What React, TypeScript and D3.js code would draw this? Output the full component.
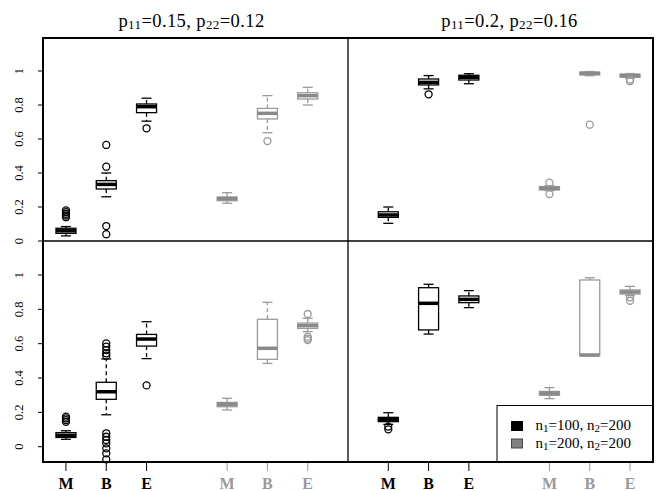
import React from "react";
import * as d3 from "d3";

// box stats: [whiskerLow, q1, median, q3, whiskerHigh]
const positions = [1, 2, 3, 5, 6, 7];
const methodLabels = ["M", "B", "E", "M", "B", "E"];
const yTicks = [0, 0.2, 0.4, 0.6, 0.8, 1];

const topLeftStats = [
  [0.03, 0.045, 0.06, 0.075, 0.085],
  [0.26, 0.306, 0.333, 0.355, 0.4],
  [0.705, 0.755, 0.79, 0.806, 0.84],
  [0.222, 0.237, 0.249, 0.259, 0.284],
  [0.637, 0.718, 0.751, 0.78, 0.855],
  [0.8, 0.835, 0.855, 0.872, 0.904],
];
const topLeftOut = [
  [0.14, 0.15, 0.16, 0.17, 0.18],
  [0.04, 0.088, 0.437, 0.565],
  [0.663],
  [],
  [0.588],
  [],
];

const topRightStats = [
  [0.104, 0.139, 0.153, 0.172, 0.2],
  [0.895, 0.918, 0.933, 0.953, 0.973],
  [0.925, 0.947, 0.963, 0.975, 0.984],
  [0.296, 0.3, 0.31, 0.32, 0.325],
  [0.972, 0.977, 0.986, 0.994, 0.997],
  [0.958, 0.963, 0.973, 0.982, 0.985],
];
const topRightOut = [
  [],
  [0.863],
  [],
  [0.276, 0.343],
  [0.684],
  [0.94, 0.95],
];

const bottomLeftStats = [
  [0.043, 0.054, 0.066, 0.082, 0.093],
  [0.186, 0.276, 0.32, 0.375, 0.511],
  [0.513, 0.586, 0.627, 0.654, 0.728],
  [0.214, 0.233, 0.247, 0.258, 0.282],
  [0.485, 0.509, 0.573, 0.742, 0.841],
  [0.67, 0.689, 0.705, 0.72, 0.748],
];
const bottomLeftOut = [
  [0.145, 0.155, 0.165, 0.175],
  [-0.074, -0.039, -0.01, 0.019, 0.039, 0.058, 0.078, 0.53, 0.544, 0.563, 0.583, 0.602],
  [0.357],
  [],
  [],
  [0.621, 0.63, 0.641, 0.773],
];

const bottomRightStats = [
  [0.13, 0.146, 0.159, 0.171, 0.198],
  [0.656, 0.68, 0.835, 0.926, 0.946],
  [0.81, 0.839, 0.858, 0.878, 0.909],
  [0.28, 0.299, 0.311, 0.322, 0.344],
  [0.53, 0.53, 0.534, 0.971, 0.984],
  [0.88, 0.889, 0.901, 0.913, 0.934],
];
const bottomRightOut = [
  [0.101, 0.117],
  [],
  [],
  [],
  [],
  [0.85, 0.87],
];

const titles = ["0.15", "0.12", "0.2", "0.16"];
const legendLabels = [["100", "200"], ["200", "200"]];

const FONT = "Liberation Serif, Times New Roman, serif";
const GREY_LINE = "#9a9a9a";
const GREY_MED = "#8a8a8a";

function Panel({ stats, outs, x, y }) {
  const hw = 10;
  const cw = 5;
  return (
    <g>
      {stats.map((s, i) => {
        const cx = x(positions[i]);
        const grey = i >= 3;
        const col = grey ? GREY_LINE : "#000";
        const med = grey ? GREY_MED : "#000";
        const [lo, q1, md, q3, hi] = s;
        return (
          <g key={i}>
            <line x1={cx} x2={cx} y1={y(q3)} y2={y(hi)} stroke={col} strokeWidth={1.3} strokeDasharray="4,3" />
            <line x1={cx} x2={cx} y1={y(q1)} y2={y(lo)} stroke={col} strokeWidth={1.3} strokeDasharray="4,3" />
            <line x1={cx - cw} x2={cx + cw} y1={y(hi)} y2={y(hi)} stroke={col} strokeWidth={1.3} />
            <line x1={cx - cw} x2={cx + cw} y1={y(lo)} y2={y(lo)} stroke={col} strokeWidth={1.3} />
            <rect x={cx - hw} y={y(q3)} width={hw * 2} height={Math.max(0.5, y(q1) - y(q3))} fill="#fff" stroke={col} strokeWidth={1.3} />
            <line x1={cx - hw} x2={cx + hw} y1={y(md)} y2={y(md)} stroke={med} strokeWidth={3.5} />
            {outs[i].map((o, j) => (
              <circle key={j} cx={cx} cy={y(o)} r={3.5} fill="none" stroke={col} strokeWidth={1.3} />
            ))}
          </g>
        );
      })}
    </g>
  );
}

function Title({ x, a, b }) {
  return (
    <text x={x} y={27} textAnchor="middle" fontFamily={FONT} fontSize={18.5} letterSpacing={0.4} fill="#000">
      p<tspan fontSize={13} dy={2}>11</tspan>
      <tspan dy={-2}>={a}, p</tspan>
      <tspan fontSize={13} dy={2}>22</tspan>
      <tspan dy={-2}>={b}</tspan>
    </text>
  );
}

export default function App() {
  const W = 659, H = 491;
  const L = 43, M = 348, R = 653, T = 38, MID = 241, B = 462;

  const xLeft = d3.scaleLinear().domain([0.43, 8.0]).range([L, M]);
  const xRight = d3.scaleLinear().domain([0, 7.57]).range([M, R]);
  const yTop = d3.scaleLinear().domain([0, 1]).range([MID, 71]);
  const yBottom = d3.scaleLinear().domain([0, 1]).range([446.7, 275]);

  return (
    <svg width={W} height={H} style={{ position: "absolute", left: 0, top: 0 }}>
      <rect width={W} height={H} fill="#fff" />
      <Title x={191.5} a={titles[0]} b={titles[1]} />
      <Title x={509.5} a={titles[2]} b={titles[3]} />

      {[yTop, yBottom].map((ys, k) => (
        <g key={k}>
          {yTicks.map((t) => (
            <g key={t}>
              <line x1={L - 5} x2={L} y1={ys(t)} y2={ys(t)} stroke="#000" strokeWidth={1} />
              <text
                transform={`translate(22.5,${ys(t)}) rotate(-90)`}
                textAnchor="middle"
                fontFamily={FONT}
                fontSize={12.5}
                fill="#000"
              >
                {d3.format("~g")(t)}
              </text>
            </g>
          ))}
        </g>
      ))}

      <Panel stats={topLeftStats} outs={topLeftOut} x={xLeft} y={yTop} />
      <Panel stats={topRightStats} outs={topRightOut} x={xRight} y={yTop} />
      <Panel stats={bottomLeftStats} outs={bottomLeftOut} x={xLeft} y={yBottom} />
      <Panel stats={bottomRightStats} outs={bottomRightOut} x={xRight} y={yBottom} />

      {[xLeft, xRight].map((xs, k) => (
        <g key={k}>
          {positions.map((p, i) => (
            <g key={i}>
              <line x1={xs(p)} x2={xs(p)} y1={B} y2={B + 9} stroke={i >= 3 ? GREY_LINE : "#000"} strokeWidth={1} />
              <text
                x={xs(p)}
                y={488.5}
                textAnchor="middle"
                fontFamily={FONT}
                fontWeight="bold"
                fontSize={16}
                fill={i >= 3 ? "#999" : "#000"}
              >
                {methodLabels[i]}
              </text>
            </g>
          ))}
        </g>
      ))}

      {/* legend */}
      <rect x={497} y={405.5} width={R - 497} height={B - 405.5} fill="#fff" stroke="#000" strokeWidth={1} />
      {legendLabels.map((l, i) => (
        <g key={i}>
          <rect x={511.5} y={421.5 + i * 17.5} width={11} height={9} fill={i === 0 ? "#000" : "#808080"} stroke={i === 0 ? "#000" : "#444"} strokeWidth={1} />
          <text x={535.5} y={430 + i * 17.5} fontFamily={FONT} fontSize={15} fill="#000">
            n<tspan fontSize={11} dy={2}>1</tspan>
            <tspan dy={-2}>={l[0]}, n</tspan>
            <tspan fontSize={11} dy={2}>2</tspan>
            <tspan dy={-2}>={l[1]}</tspan>
          </text>
        </g>
      ))}

      {/* frames */}
      <line x1={M} x2={M} y1={T} y2={B} stroke="#000" strokeWidth={1.3} />
      <line x1={L} x2={R} y1={MID} y2={MID} stroke="#000" strokeWidth={1.3} />
      <rect x={L} y={T} width={R - L} height={B - T} fill="none" stroke="#000" strokeWidth={2} />
    </svg>
  );
}
